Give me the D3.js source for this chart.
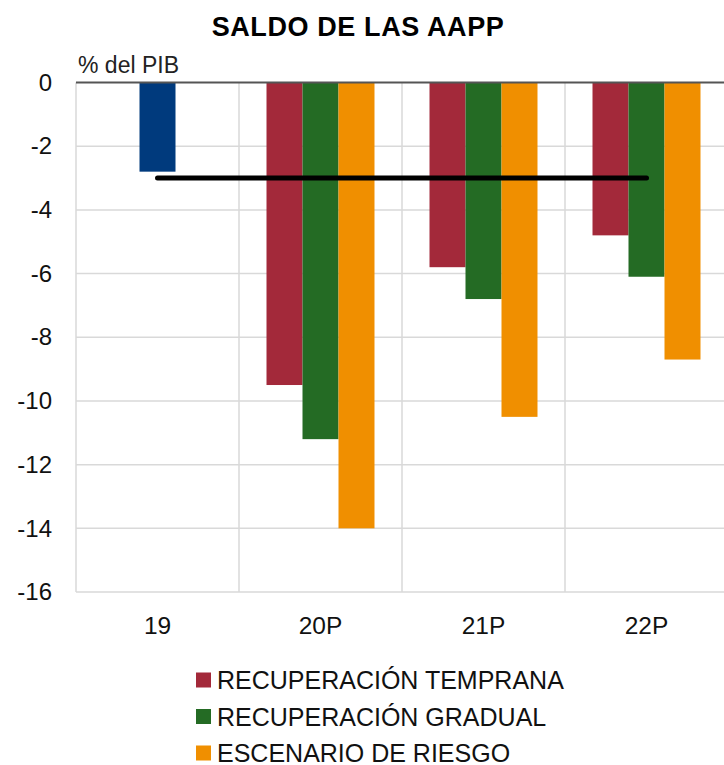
<!DOCTYPE html>
<html>
<head>
<meta charset="utf-8">
<script src="https://cdn.jsdelivr.net/npm/d3@7"></script>
<style>
  html, body { margin: 0; padding: 0; background: #fff; }
  svg { display: block; font-family: "Liberation Sans", Arial, Helvetica, sans-serif; }
</style>
</head>
<body>
<svg id="chart" width="724" height="765"></svg>
<script>
// Saldo de las Administraciones Públicas, % del PIB
const categories = ["19", "20P", "21P", "22P"];
const seriesNames = ["RECUPERACIÓN TEMPRANA", "RECUPERACIÓN GRADUAL", "ESCENARIO DE RIESGO"];
const seriesColors = ["#a3293a", "#246b24", "#f08f00"];
const observed2019 = -2.8;
const earlyRecovery = [null, -9.5, -5.8, -4.8];
const gradualRecovery = [null, -11.2, -6.8, -6.1];
const riskScenario = [null, -14.0, -10.5, -8.7];
const referenceLevel = -3;
const yTicks = [0, -2, -4, -6, -8, -10, -12, -14, -16];

const seriesValues = [earlyRecovery, gradualRecovery, riskScenario];

const svg = d3.select("#chart");

const x = d3.scaleBand().domain(categories).range([76, 728]).padding(0);
const xSub = d3.scaleBand().domain(seriesNames).range([0, x.bandwidth()])
  .paddingInner(0).paddingOuter(0.764);
const y = d3.scaleLinear().domain([-16, 0]).range([592, 82.5]);

// Title
svg.append("text")
  .attr("x", 358).attr("y", 36)
  .attr("text-anchor", "middle")
  .attr("font-size", 27).attr("font-weight", "bold")
  .attr("letter-spacing", 0.6)
  .attr("fill", "#000")
  .text("SALDO DE LAS AAPP");

// Unit label
svg.append("text")
  .attr("x", 78).attr("y", 73)
  .attr("font-size", 23).attr("fill", "#222")
  .text("% del PIB");

// Grid
const grid = svg.append("g");
grid.selectAll("line.h").data(yTicks.filter(d => d !== 0)).join("line")
  .attr("x1", 76).attr("x2", 728)
  .attr("y1", d => y(d)).attr("y2", d => y(d))
  .attr("stroke", "#d9d9d9").attr("stroke-width", 1.5);
const vBounds = categories.map(c => x(c)).concat([x.range()[1]]);
grid.selectAll("line.v").data(vBounds).join("line")
  .attr("x1", d => d).attr("x2", d => d)
  .attr("y1", y(0)).attr("y2", y(-16))
  .attr("stroke", "#d9d9d9").attr("stroke-width", 1.5);

// Y axis labels
const yAxis = svg.append("g").attr("transform", "translate(76,0)")
  .call(d3.axisLeft(y).tickValues(yTicks).tickSize(0).tickPadding(24)
    .tickFormat(d => d3.format("d")(d).replace("−", "-")));
yAxis.select(".domain").remove();
yAxis.selectAll("text").attr("font-size", 24).attr("fill", "#111")
  .attr("font-family", "\"Liberation Sans\", Arial, sans-serif");

// X axis labels
const xAxis = svg.append("g").attr("transform", `translate(0,${y(-16)})`)
  .call(d3.axisBottom(x).tickSize(0).tickPadding(25));
xAxis.select(".domain").remove();
xAxis.selectAll("text").attr("font-size", 24.5).attr("fill", "#111")
  .attr("font-family", "\"Liberation Sans\", Arial, sans-serif");

// 2019 observed bar
svg.append("rect")
  .attr("x", x("19") + (x.bandwidth() - xSub.bandwidth()) / 2)
  .attr("width", xSub.bandwidth())
  .attr("y", y(0)).attr("height", y(observed2019) - y(0))
  .attr("fill", "#003a7d");

// Scenario bars
const bars = svg.append("g");
seriesNames.forEach((name, si) => {
  const data = categories.map((c, i) => ({ c, v: seriesValues[si][i] })).filter(d => d.v !== null);
  bars.selectAll(null).data(data).join("rect")
    .attr("x", d => x(d.c) + xSub(name))
    .attr("width", xSub.bandwidth())
    .attr("y", y(0))
    .attr("height", d => y(d.v) - y(0))
    .attr("fill", seriesColors[si]);
});

// Zero line
svg.append("line")
  .attr("x1", 76).attr("x2", 728)
  .attr("y1", y(0)).attr("y2", y(0))
  .attr("stroke", "#555").attr("stroke-width", 2);

// Reference level at -3
svg.append("line")
  .attr("x1", x("19") + x.bandwidth() / 2)
  .attr("x2", x("22P") + x.bandwidth() / 2)
  .attr("y1", y(referenceLevel)).attr("y2", y(referenceLevel))
  .attr("stroke", "#000").attr("stroke-width", 5)
  .attr("stroke-linecap", "round");

// Legend
const legend = svg.append("g").attr("transform", "translate(196,680)");
seriesNames.forEach((name, i) => {
  const g = legend.append("g").attr("transform", `translate(0,${i * 36.5})`);
  g.append("rect").attr("x", 0).attr("y", -7.5).attr("width", 15).attr("height", 15)
    .attr("fill", seriesColors[i]);
  g.append("text").attr("x", 21).attr("y", 9)
    .attr("font-size", 25).attr("fill", "#111")
    .text(name);
});
</script>
</body>
</html>
